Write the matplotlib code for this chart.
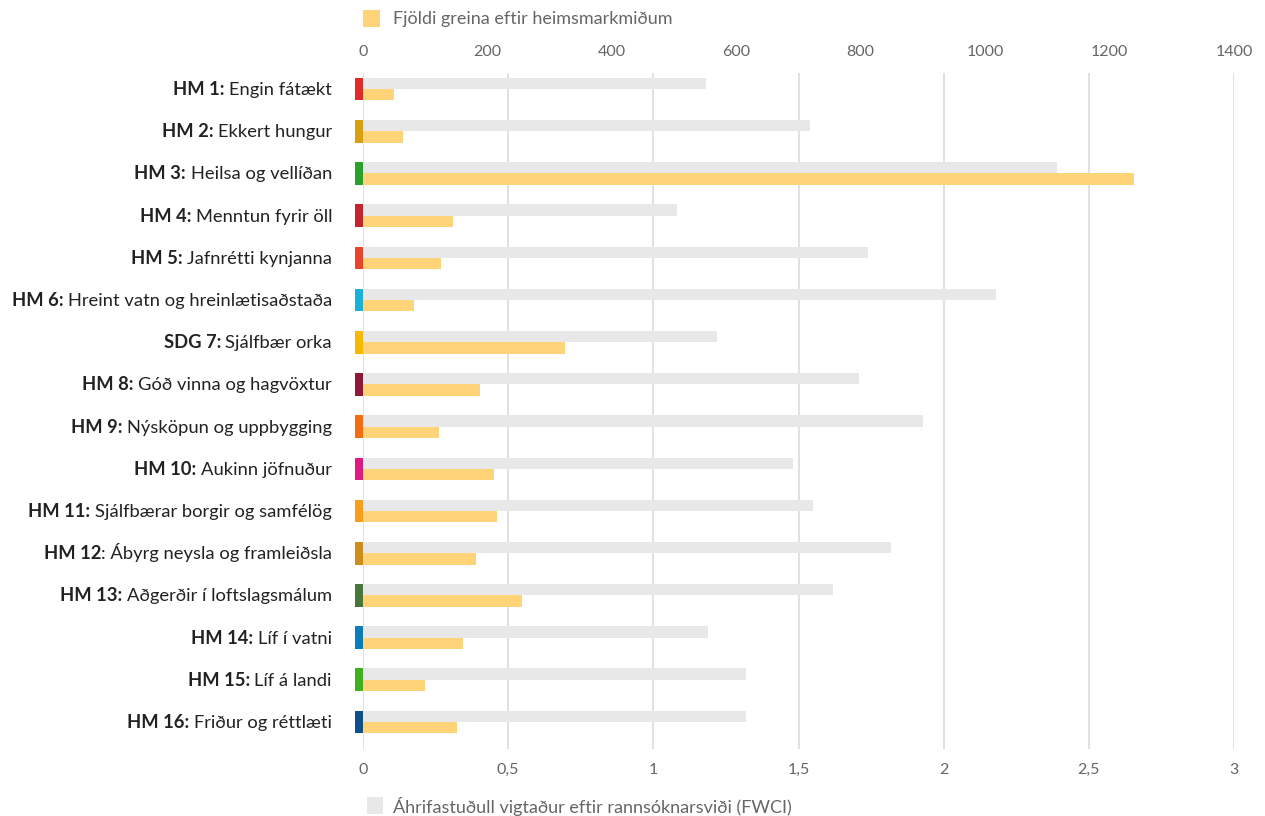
import matplotlib
matplotlib.use("Agg")
import matplotlib.pyplot as plt
import matplotlib.transforms as mtransforms
from matplotlib.patches import Rectangle
from matplotlib.ticker import FuncFormatter
import numpy as np

plt.rcParams['font.family'] = ['Lato', 'DejaVu Sans']

# Heimsmarkmið: feitletraður forskeyti + venjulegur texti
forskeyti = ['HM 1:', 'HM 2:', 'HM 3:', 'HM 4:', 'HM 5:', 'HM 6:', 'SDG 7:', 'HM 8:',
             'HM 9:', 'HM 10:', 'HM 11:', 'HM 12', 'HM 13:', 'HM 14:', 'HM 15:', 'HM 16:']
heiti = ['Engin fátækt', 'Ekkert hungur', 'Heilsa og vellíðan', 'Menntun fyrir öll',
         'Jafnrétti kynjanna', 'Hreint vatn og hreinlætisaðstaða', 'Sjálfbær orka',
         'Góð vinna og hagvöxtur', 'Nýsköpun og uppbygging', 'Aukinn jöfnuður',
         'Sjálfbærar borgir og samfélög', ': Ábyrg neysla og framleiðsla',
         'Aðgerðir í loftslagsmálum', 'Líf í vatni', 'Líf á landi', 'Friður og réttlæti']
fwci = [1.18, 1.54, 2.39, 1.08, 1.74, 2.18, 1.22, 1.71, 1.93, 1.48, 1.55, 1.82, 1.62, 1.19, 1.32, 1.32]
greinar = [50, 64, 1240, 145, 125, 82, 324, 188, 122, 210, 216, 181, 255, 160, 100, 151]
hm_litir = ['#e02b2b', '#d8a010', '#2ca02c', '#c4242f', '#e8452c', '#1ab0d8', '#f9b800', '#8f1838',
            '#f36d12', '#e01a83', '#f99d1c', '#cf8d1e', '#48773c', '#0a7dba', '#3fb01f', '#10508a']

fwci_ticks = [0, 0.5, 1, 1.5, 2, 2.5, 3]
greinar_ticks = [0, 200, 400, 600, 800, 1000, 1200, 1400]

GRAR = '#e8e8e8'
GULUR = '#ffd479'
TEXTI = '#666666'

W, H = 1265, 816
fig = plt.figure(figsize=(W / 100, H / 100), dpi=100)
ax = fig.add_axes([363 / W, 1 - 749 / H, 871 / W, 676 / H])
ax2 = ax.twiny()

y = np.arange(len(fwci))
bh = 0.268

ax.barh(y - bh / 2, fwci, height=bh, color=GRAR, zorder=2)
ax2.barh(y + bh / 2, greinar, height=bh, color=GULUR, zorder=2)
# litaðir reitir vinstra megin við núllið
sq = 8 * 3 / 871
kassar = ax.barh(y, sq, left=-sq, height=2 * bh, color=hm_litir, zorder=3)
for k in kassar:
    k.set_clip_on(False)

ax.set_xlim(0, 3)
ax2.set_xlim(0, 1400)
ax.set_ylim(15.64, -0.38)

ax.set_xticks(fwci_ticks)
ax.xaxis.set_major_formatter(FuncFormatter(lambda v, p: f'{v:g}'.replace('.', ',')))
ax2.set_xticks(greinar_ticks)
ax.set_yticks([])
ax2.set_yticks([])

for a in (ax, ax2):
    for s in a.spines.values():
        s.set_visible(False)
    a.tick_params(axis='x', length=0, pad=10, labelcolor=TEXTI, labelsize=11.5)
ax.grid(axis='x', color='#dcdcdc', linewidth=1.2, zorder=0)
ax.set_axisbelow(True)

# merkingar á y-ás: feitletraður hluti + venjulegur hluti
fig.canvas.draw()
r = fig.canvas.get_renderer()
trans = mtransforms.blended_transform_factory(ax.transAxes, ax.transData)
for i in range(len(heiti)):
    off = mtransforms.ScaledTranslation(-31 / 100, -6 / 100, fig.dpi_scale_trans)
    t = ax.text(0, i, heiti[i], transform=trans + off, ha='right', va='baseline',
                fontsize=13.2, color='#222222')
    w = t.get_window_extent(r).width
    bil = 0 if heiti[i].startswith(':') else 4.5
    off2 = mtransforms.ScaledTranslation(-(31 + w + bil) / 100, -6 / 100, fig.dpi_scale_trans)
    ax.text(0, i, forskeyti[i], transform=trans + off2, ha='right', va='baseline',
            fontsize=13.2, color='#222222', fontweight='bold')

# skýringar
def px(x, yy):
    return x / W, 1 - yy / H

fig.add_artist(Rectangle(px(363, 27), 17 / W, 17 / H, transform=fig.transFigure,
                         color=GULUR, lw=0))
fig.text(*px(393, 19), 'Fjöldi greina eftir heimsmarkmiðum', color=TEXTI,
         fontsize=13, va='center', ha='left')
fig.add_artist(Rectangle(px(367, 814), 16 / W, 17 / H, transform=fig.transFigure,
                         color=GRAR, lw=0))
fig.text(*px(393, 806), 'Áhrifastuðull vigtaður eftir rannsóknarsviði (FWCI)', color=TEXTI,
         fontsize=13, va='center', ha='left')

fig.savefig('out.png', dpi=100)
